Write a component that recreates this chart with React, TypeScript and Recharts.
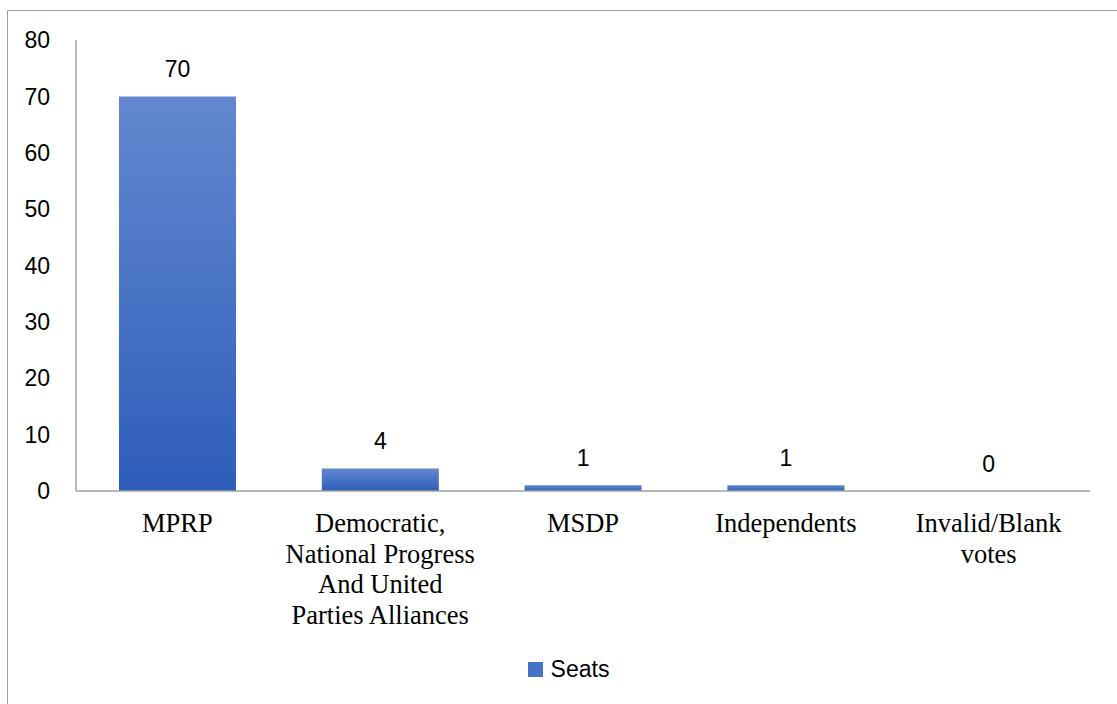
import React from "react";
import { BarChart, Bar, XAxis, YAxis, Legend, LabelList } from "recharts";

const categories = [
  "MPRP",
  "Democratic,\nNational Progress\nAnd United\nParties Alliances",
  "MSDP",
  "Independents",
  "Invalid/Blank\nvotes",
];
const seats = [70, 4, 1, 1, 0];
const yTicks = [0, 10, 20, 30, 40, 50, 60, 70, 80];
const seriesName = "Seats";

const data = categories.map((c, i) => ({ category: c, seats: seats[i] }));

const SANS = "'Liberation Sans', Arial, sans-serif";
const SERIF = "'Liberation Serif', 'Times New Roman', serif";

const CategoryTick = (props: any) => {
  const { x, y, payload } = props;
  const lines = String(payload.value).split("\n");
  return (
    <g transform={`translate(${x},${y})`}>
      {lines.map((l: string, i: number) => (
        <text
          key={i}
          x={0}
          y={33 + i * 30.5}
          textAnchor="middle"
          fontFamily={SERIF}
          fontSize={26.5}
          fill="#000"
        >
          {l}
        </text>
      ))}
    </g>
  );
};

const ValueLabel = (props: any) => {
  const { x, y, width, height, value } = props;
  const top = Math.min(Number(y), Number(y) + Number(height));
  return (
    <text
      x={Number(x) + Number(width) / 2}
      y={top - 19}
      textAnchor="middle"
      fontFamily={SANS}
      fontSize={23}
      fill="#000"
    >
      {String(value)}
    </text>
  );
};

const LegendContent = (props: any) => {
  const { payload } = props;
  return (
    <div style={{ display: "flex", justifyContent: "center", alignItems: "center", paddingLeft: 20 }}>
      {(payload || []).map((p: any, i: number) => (
        <div key={i} style={{ display: "flex", alignItems: "center" }}>
          <svg width={15} height={15} style={{ marginRight: 8 }}>
            <rect x={0} y={0} width={15} height={15} fill="#4472C4" />
          </svg>
          <span style={{ fontFamily: SANS, fontSize: 23, color: "#000" }}>{p.value}</span>
        </div>
      ))}
    </div>
  );
};

export default function App() {
  return (
    <div
      style={{
        position: "absolute",
        left: 0,
        top: 0,
        width: 1117,
        height: 704,
        overflow: "hidden",
        background: "#fff",
      }}
    >
      <div
        style={{
          position: "absolute",
          left: 7,
          top: 10,
          width: 1200,
          height: 800,
          border: "1.5px solid #a0a0a0",
        }}
      />
      <div style={{ position: "absolute", left: 0, top: 0 }}>
        <BarChart
          width={1117}
          height={704}
          data={data}
          margin={{ top: 40, right: 27, left: 0, bottom: 0 }}
        >
          <defs>
            <linearGradient id="barGrad" x1="0" y1="0" x2="0" y2="1">
              <stop offset="0%" stopColor="#6388CF" />
              <stop offset="100%" stopColor="#2E5DBA" />
            </linearGradient>
          </defs>
          <XAxis
            dataKey="category"
            height={213}
            axisLine={{ stroke: "#a0a0a0", strokeWidth: 1.5 }}
            tickLine={false}
            tick={<CategoryTick />}
            interval={0}
          />
          <YAxis
            width={76}
            domain={[0, 80]}
            ticks={yTicks}
            axisLine={{ stroke: "#a0a0a0", strokeWidth: 1.5 }}
            tickLine={false}
            tickSize={0}
            tickMargin={26}
            tick={{ fontFamily: SANS, fontSize: 23, fill: "#000" }}
          />
          <Legend
            layout="vertical"
            align="center"
            verticalAlign="middle"
            content={<LegendContent />}
            wrapperStyle={{ top: 656, left: 0, width: 1117 }}
          />
          <Bar
            dataKey="seats"
            name={seriesName}
            fill="url(#barGrad)"
            barSize={117}
            minPointSize={0.01}
            isAnimationActive={false}
          >
            <LabelList dataKey="seats" content={<ValueLabel />} />
          </Bar>
        </BarChart>
      </div>
    </div>
  );
}
